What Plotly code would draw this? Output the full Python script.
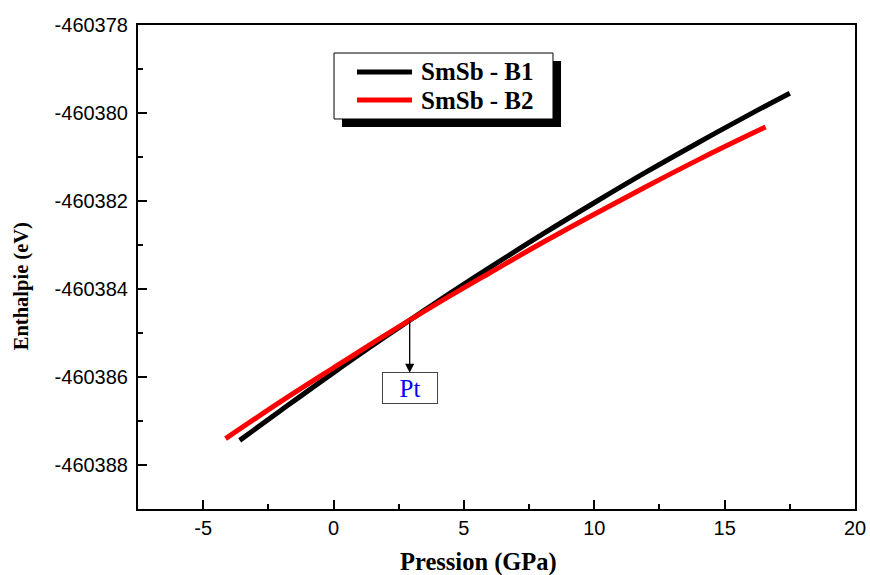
import plotly.graph_objects as go

# Data
pressure_b1 = [-3.6, -2, 0, 2, 4, 6, 8, 10, 12, 14, 16, 17.5]
enthalpy_b1 = [-460387.44, -460386.75, -460385.90, -460385.08, -460384.28, -460383.51,
               -460382.76, -460382.04, -460381.34, -460380.67, -460380.02, -460379.55]
pressure_b2 = [-4.14, -2, 0, 2, 4, 6, 8, 10, 12, 14, 16, 16.57]
enthalpy_b2 = [-460387.40, -460386.55, -460385.79, -460385.04, -460384.32, -460383.63,
               -460382.95, -460382.30, -460381.67, -460381.06, -460380.48, -460380.32]
series_names = ["SmSb - B1", "SmSb - B2"]
series_colors = ["#000000", "#ff0000"]
transition_p = 2.92
transition_h = -460384.71

x_tickvals = [-5, 0, 5, 10, 15, 20]
x_ticktext = ["-5", "0", "5", "10", "15", "20"]
y_tickvals = [-460378, -460380, -460382, -460384, -460386, -460388]
y_ticktext = ["-460378", "-460380", "-460382", "-460384", "-460386", "-460388"]

fig = go.Figure()
fig.add_trace(go.Scatter(x=pressure_b1, y=enthalpy_b1, mode="lines", name=series_names[0],
                         line=dict(color=series_colors[0], width=5, shape="spline"),
                         showlegend=False))
fig.add_trace(go.Scatter(x=pressure_b2, y=enthalpy_b2, mode="lines", name=series_names[1],
                         line=dict(color=series_colors[1], width=5, shape="spline"),
                         showlegend=False))

tickfont = dict(family="Liberation Sans", size=20, color="black")
fig.update_xaxes(range=[-7.5, 20], tickmode="array", tickvals=x_tickvals, ticktext=x_ticktext,
                 ticks="inside", ticklen=9, tickwidth=1.5, tickcolor="black",
                 minor=dict(ticks="inside", ticklen=5, tickwidth=1.5, tickcolor="black",
                            dtick=2.5, tick0=0, showgrid=False),
                 showline=True, linecolor="black", linewidth=2, mirror=True, automargin=False,
                 showgrid=False, zeroline=False, tickfont=tickfont)
fig.update_yaxes(range=[-460389, -460378], tickmode="array", tickvals=y_tickvals, ticktext=y_ticktext,
                 ticks="inside", ticklen=9, tickwidth=1.5, tickcolor="black",
                 minor=dict(ticks="inside", ticklen=5, tickwidth=1.5, tickcolor="black",
                            dtick=1, tick0=0, showgrid=False),
                 showline=True, linecolor="black", linewidth=2, mirror=True, automargin=False,
                 ticklabelstandoff=4,
                 showgrid=False, zeroline=False, tickfont=tickfont)

serif = "Liberation Serif"

# Axis titles
annotations = [
    dict(text="<b>Pression (GPa)</b>", xref="paper", yref="paper", x=0.475, y=-0.11,
         xanchor="center", yanchor="middle", showarrow=False,
         font=dict(family=serif, size=24.5, color="black")),
    dict(text="<b>Enthalpie (eV)</b>", xref="paper", yref="paper", x=-0.162, y=0.46,
         xanchor="center", yanchor="middle", showarrow=False, textangle=-90,
         font=dict(family=serif, size=20.5, color="black")),
]

# Legend (manual, with drop shadow)
shapes = [
    dict(type="rect", xref="paper", yref="paper", x0=0.2845, x1=0.590, y0=0.7893, y1=0.9256,
         fillcolor="black", line=dict(width=0), layer="above"),
    dict(type="rect", xref="paper", yref="paper", x0=0.2734, x1=0.5788, y0=0.8058, y1=0.9421,
         fillcolor="white", line=dict(color="black", width=1), layer="above"),
]
legend_rows = [0.9029, 0.8450]
for name, color, yrow in zip(series_names, series_colors, legend_rows):
    shapes.append(dict(type="line", xref="paper", yref="paper", x0=0.3054, x1=0.3822,
                       y0=yrow, y1=yrow, line=dict(color=color, width=5), layer="above"))
    annotations.append(dict(text="<b>%s</b>" % name, xref="paper", yref="paper", x=0.3919, y=yrow,
                            xanchor="left", yanchor="middle", showarrow=False,
                            font=dict(family=serif, size=25, color="black")))

# Transition pressure marker
annotations.append(dict(text="Pt", x=transition_p, y=transition_h, xref="x", yref="y",
                        ax=0, ay=68, showarrow=True, arrowside="start",
                        startarrowhead=2, startarrowsize=1.4, arrowwidth=1.3, arrowcolor="black",
                        font=dict(family=serif, size=25, color="blue"),
                        bordercolor="#444", borderwidth=1, borderpad=0, bgcolor="white",
                        width=54, height=30))

fig.update_layout(width=870, height=575, margin=dict(l=138, r=15, t=25, b=66),
                  plot_bgcolor="white", paper_bgcolor="white",
                  shapes=shapes, annotations=annotations, showlegend=False)

fig.write_html("out.html")
